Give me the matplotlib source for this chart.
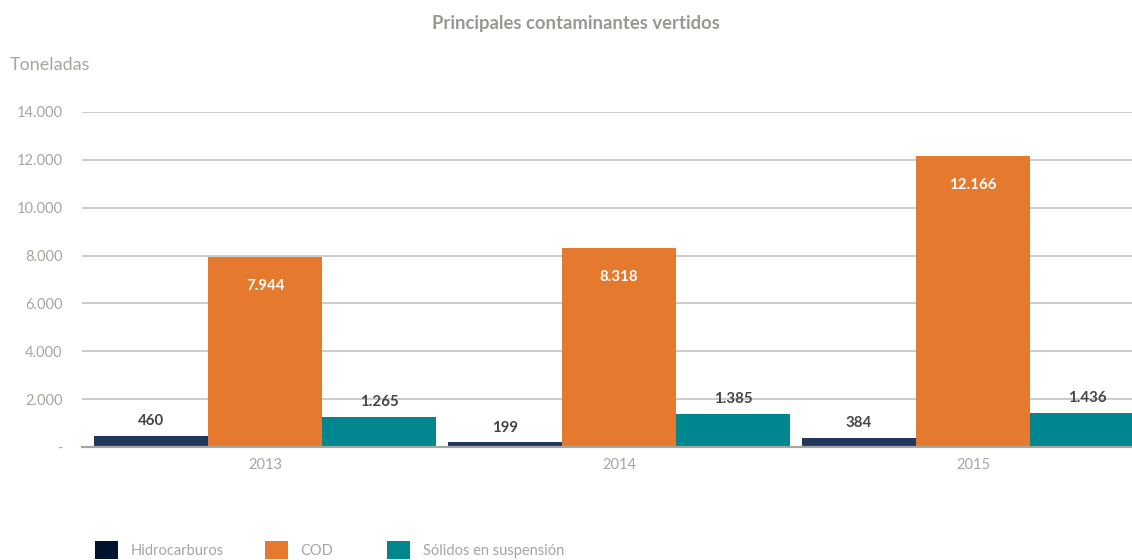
import matplotlib
matplotlib.use("Agg")
import matplotlib.pyplot as plt
from matplotlib.patches import Patch
import numpy as np

years = ["2013", "2014", "2015"]
series_names = ["Hidrocarburos", "COD", "Sólidos en suspensión"]
hidrocarburos = [460, 199, 384]
cod = [7944, 8318, 12166]
solidos = [1265, 1385, 1436]
y_ticks = [0, 2000, 4000, 6000, 8000, 10000, 12000, 14000]

bar_colors = ["#21385E", "#E57A2E", "#00868F"]
legend_colors = ["#00132E", "#E57A2E", "#00868F"]

plt.rcParams['font.family'] = ['Lato', 'DejaVu Sans']

def fmt(v):
    return f"{v:,}".replace(",", ".")

fig = plt.figure(figsize=(11.32, 5.6), dpi=100)
ax = fig.add_axes([82/1132, 113/560, 1068/1132, 335/560])

x = np.arange(len(years))
w = 0.322
data = [hidrocarburos, cod, solidos]
offsets = [-w, 0, w]
for i, (vals, off) in enumerate(zip(data, offsets)):
    bars = ax.bar(x + off, vals, width=w, color=bar_colors[i], zorder=3, linewidth=0)
    for b, v in zip(bars, vals):
        cx = b.get_x() + b.get_width() / 2
        if i == 1:
            ax.annotate(fmt(v), (cx, v), xytext=(0, -21), textcoords="offset points",
                        ha="center", va="center", color="white", fontweight="bold", fontsize=10.8)
        else:
            ax.annotate(fmt(v), (cx, v), xytext=(0, 10.5), textcoords="offset points",
                        ha="center", va="center", color="#444444", fontweight="bold", fontsize=10.8)

ax.set_xlim(-0.517, 2.5)
ax.set_ylim(0, 14000)
ax.set_yticks(y_ticks)
ax.set_yticklabels(["-"] + [fmt(t) for t in y_ticks[1:]])
ax.set_xticks(x)
ax.set_xticklabels(years)
ax.tick_params(axis="both", length=0, colors="#A8A5A0", labelsize=10.5)
ax.tick_params(axis="y", pad=14)
ax.tick_params(axis="x", pad=8)
for s in ["top", "right", "left"]:
    ax.spines[s].set_visible(False)
ax.spines["bottom"].set_color("#A8A5A0")
ax.spines["bottom"].set_linewidth(1.6)
ax.spines["bottom"].set_zorder(4)
ax.yaxis.grid(True, color="#C4C2BE", linewidth=1.2, zorder=0)
ax.set_axisbelow(True)
for gl, t in zip(ax.yaxis.get_gridlines(), y_ticks):
    if t == 0:
        gl.set_visible(False)

fig.text(576/1132, 1 - 23/560, "Principales contaminantes vertidos", ha="center", va="center",
         fontsize=13.3, fontweight="bold", color="#9B9892")
fig.text(10/1132, 1 - 65/560, "Toneladas", ha="left", va="center", fontsize=13, color="#A8A5A0")

legend_x = [95, 265, 387]
for name, c, lx in zip(series_names, legend_colors, legend_x):
    fig.legend([Patch(facecolor=c, edgecolor="none")], [name], loc="center left",
               bbox_to_anchor=(lx/1132, 1 - 550/560), borderaxespad=0, borderpad=0,
               frameon=False, fontsize=10.5, handlelength=1.6, handleheight=1.6,
               handletextpad=0.85, labelcolor="#A8A5A0")

fig.savefig("out.png", dpi=100)
